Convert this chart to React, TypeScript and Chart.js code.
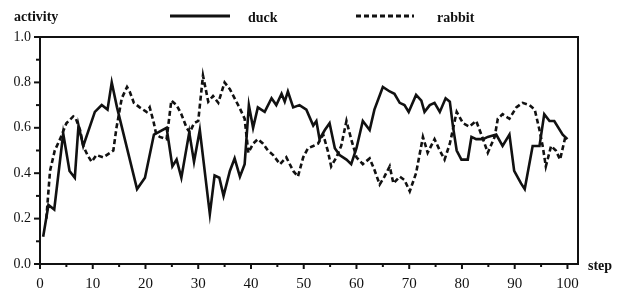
import React, { useEffect, useRef } from 'react';
import { Chart, registerables } from 'chart.js';

Chart.register(...registerables);

const duckSteps = [0.6, 1.6, 2.7, 4.4, 5.6, 6.6, 7.3, 8.2, 10.4, 11.7, 12.8, 13.6, 14.6, 18.4, 19.9, 21.6, 22.4, 24, 25.1, 25.9, 26.8, 28.3, 29.2, 30.3, 32.2, 33.1, 34, 34.8, 36, 36.9, 37.9, 38.8, 39.6, 40.4, 41.3, 42.6, 43.9, 44.8, 45.8, 46.4, 47, 48, 49.2, 50.5, 51.8, 52.4, 53, 54, 54.9, 55.9, 56.8, 58.1, 59, 60, 61.2, 62.5, 63.4, 65, 66.3, 67.2, 68.2, 69.1, 69.9, 71.3, 72.3, 72.9, 73.9, 74.8, 75.8, 76.9, 77.7, 78.3, 79, 79.9, 81.1, 81.8, 82.7, 84, 84.9, 86.5, 87.7, 89, 89.9, 91.2, 91.9, 93.4, 94.7, 95.6, 96.6, 97.5, 99.1, 100];
const duckValues = [0.12, 0.26, 0.24, 0.575, 0.41, 0.38, 0.61, 0.52, 0.67, 0.70, 0.68, 0.80, 0.69, 0.33, 0.38, 0.57, 0.58, 0.60, 0.43, 0.46, 0.38, 0.58, 0.45, 0.59, 0.22, 0.39, 0.38, 0.30, 0.41, 0.465, 0.385, 0.44, 0.70, 0.60, 0.69, 0.67, 0.73, 0.70, 0.75, 0.715, 0.76, 0.69, 0.70, 0.68, 0.61, 0.63, 0.55, 0.59, 0.62, 0.51, 0.48, 0.46, 0.44, 0.51, 0.63, 0.59, 0.68, 0.78, 0.76, 0.75, 0.71, 0.70, 0.67, 0.745, 0.72, 0.67, 0.70, 0.71, 0.67, 0.73, 0.715, 0.605, 0.50, 0.46, 0.46, 0.56, 0.55, 0.55, 0.56, 0.57, 0.52, 0.57, 0.41, 0.355, 0.33, 0.52, 0.52, 0.66, 0.63, 0.63, 0.57, 0.55];

const rabbitSteps = [1.2, 1.9, 2.8, 3.8, 5, 6.3, 6.8, 7.6, 8.2, 9, 9.8, 10.7, 12, 13.3, 13.9, 14.5, 15.5, 16.5, 17, 17.8, 18.9, 20.2, 20.8, 21.5, 22, 22.7, 24, 24.9, 25.9, 26.8, 27.8, 28.4, 29.2, 30, 30.9, 31.9, 32.8, 33.8, 35, 36, 36.9, 37.9, 38.8, 39.5, 40.4, 41.3, 42.3, 43.2, 44.2, 45.5, 46.7, 48, 48.9, 49.9, 50.8, 51.8, 52.7, 53.7, 54.6, 55.2, 56.2, 57.1, 58.1, 59, 60, 61.2, 62.5, 63.4, 64.4, 65.3, 66.3, 67, 68.2, 69.1, 70.1, 71.3, 72.6, 73.5, 74.8, 75.8, 76.7, 77.7, 79, 80.2, 81.4, 82.7, 84, 84.9, 86.2, 86.8, 87.7, 89, 90.3, 91.5, 92.8, 93.8, 94.7, 95.3, 95.9, 96.9, 97.8, 98.6, 99.7];
const rabbitValues = [0.2, 0.41, 0.50, 0.55, 0.62, 0.65, 0.64, 0.59, 0.52, 0.48, 0.45, 0.48, 0.47, 0.49, 0.50, 0.60, 0.73, 0.78, 0.76, 0.71, 0.69, 0.67, 0.69, 0.63, 0.575, 0.56, 0.55, 0.72, 0.70, 0.66, 0.60, 0.58, 0.62, 0.63, 0.83, 0.715, 0.74, 0.71, 0.80, 0.77, 0.73, 0.685, 0.64, 0.49, 0.53, 0.55, 0.53, 0.50, 0.48, 0.44, 0.47, 0.41, 0.385, 0.47, 0.51, 0.52, 0.53, 0.57, 0.495, 0.43, 0.47, 0.52, 0.63, 0.55, 0.47, 0.44, 0.465, 0.415, 0.35, 0.385, 0.43, 0.355, 0.385, 0.37, 0.32, 0.40, 0.56, 0.49, 0.55, 0.50, 0.46, 0.53, 0.67, 0.62, 0.605, 0.63, 0.55, 0.49, 0.56, 0.64, 0.66, 0.64, 0.69, 0.71, 0.70, 0.68, 0.59, 0.52, 0.43, 0.52, 0.50, 0.46, 0.57];

const seriesNames = ['duck', 'rabbit'];
const yAxisName = 'activity';
const xAxisName = 'step';

const INK = '#111';
const FONT = '"Liberation Serif", "DejaVu Serif", serif';

const decorPlugin = {
  id: 'decor',
  afterDraw(chart: any) {
    const { ctx, chartArea, scales } = chart;
    const { left, top, right, bottom } = chartArea;
    const x = scales.x;
    const y = scales.y;
    ctx.save();
    ctx.strokeStyle = INK;
    ctx.lineWidth = 2;
    ctx.strokeRect(left, top, right - left, bottom - top);
    x.ticks.forEach((t: any) => {
      const px = x.getPixelForValue(t.value);
      const major = Math.round(t.value) % 10 === 0;
      ctx.beginPath();
      ctx.moveTo(px, bottom);
      ctx.lineTo(px, bottom + (major ? 5 : 3));
      ctx.stroke();
    });
    y.ticks.forEach((t: any) => {
      const py = y.getPixelForValue(t.value);
      const major = Math.round(t.value * 10) % 2 === 0;
      ctx.beginPath();
      ctx.moveTo(left - (major ? 6 : 4), py);
      ctx.lineTo(left, py);
      ctx.stroke();
    });
    ctx.fillStyle = INK;
    ctx.font = `bold 14px ${FONT}`;
    ctx.textBaseline = 'middle';
    ctx.textAlign = 'left';
    ctx.fillText(yAxisName, 14, 17);
    ctx.fillText(xAxisName, 588, 266);
    const ds = chart.data.datasets;
    const items = [
      { x0: 170, x1: 230, tx: 248 },
      { x0: 356, x1: 414, tx: 437 },
    ];
    items.forEach((it, i) => {
      const d = ds[i];
      ctx.beginPath();
      ctx.lineWidth = 2.8;
      ctx.setLineDash(d.borderDash || []);
      ctx.moveTo(it.x0, 16);
      ctx.lineTo(it.x1, 16);
      ctx.stroke();
      ctx.setLineDash([]);
      ctx.fillText(d.label, it.tx, 18);
    });
    ctx.restore();
  },
};

export default function App() {
  const ref = useRef<HTMLCanvasElement>(null);
  useEffect(() => {
    if (!ref.current) return;
    const chart = new Chart(ref.current, {
      type: 'line',
      data: {
        datasets: [
          {
            label: seriesNames[0],
            data: duckSteps.map((s, i) => ({ x: s, y: duckValues[i] })),
            borderColor: INK,
            borderWidth: 2.6,
            pointRadius: 0,
            tension: 0,
            fill: false,
          },
          {
            label: seriesNames[1],
            data: rabbitSteps.map((s, i) => ({ x: s, y: rabbitValues[i] })),
            borderColor: INK,
            borderWidth: 2.6,
            borderDash: [5, 3],
            pointRadius: 0,
            tension: 0,
            fill: false,
          },
        ],
      },
      options: {
        animation: false,
        responsive: false,
        layout: { padding: { left: 0, top: 37, right: 40, bottom: 0 } },
        plugins: { legend: { display: false }, tooltip: { enabled: false } },
        scales: {
          x: {
            type: 'linear',
            min: 0,
            max: 102,
            grid: { display: false, drawTicks: false },
            border: { display: false },
            afterFit: (s: any) => { s.height = 31; },
            ticks: {
              stepSize: 5,
              includeBounds: false,
              autoSkip: false,
              maxRotation: 0,
              padding: 11,
              color: INK,
              font: { family: FONT, size: 15 },
              callback: (v: any) => (Math.round(v) % 10 === 0 ? String(Math.round(v)) : ''),
            },
          },
          y: {
            type: 'linear',
            min: 0,
            max: 1,
            grid: { display: false, drawTicks: false },
            border: { display: false },
            afterFit: (s: any) => { s.width = 40; },
            ticks: {
              stepSize: 0.1,
              autoSkip: false,
              padding: 9,
              color: INK,
              font: { family: FONT, size: 14 },
              callback: (v: any) => (Math.round(v * 10) % 2 === 0 ? Number(v).toFixed(1) : ''),
            },
          },
        },
      },
      plugins: [decorPlugin],
    } as any);
    return () => chart.destroy();
  }, []);
  return (
    <div style={{ position: 'absolute', left: 0, top: 0, width: 618, height: 295, background: '#fff' }}>
      <canvas ref={ref} width={618} height={295} />
    </div>
  );
}
